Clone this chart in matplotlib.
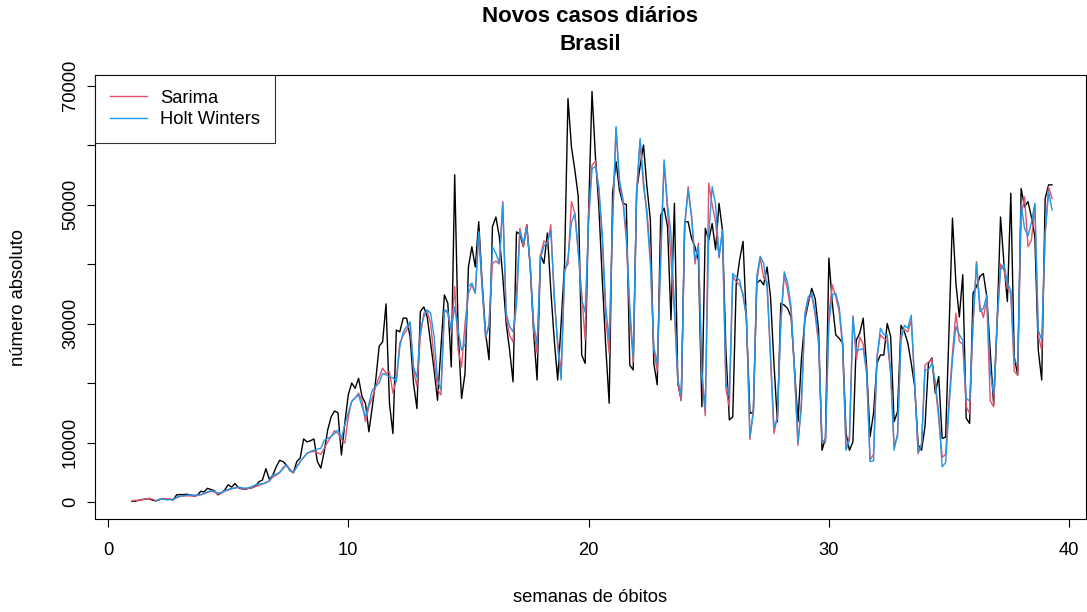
import numpy as np
import matplotlib
matplotlib.use("Agg")
import matplotlib.pyplot as plt

plt.rcParams['font.family'] = ['Liberation Sans', 'DejaVu Sans']

# casos diarios observados (serie comeca na semana 1, frequencia 7)
observado = [
    100, 150, 300, 400, 500, 550, 300, 200, 400, 550,
    500, 450, 350, 1200, 1250, 1250, 1300, 1200, 1000, 1100,
    1800, 1700, 2300, 2100, 1900, 1200, 1500, 2000, 2900, 2500,
    3100, 2400, 2200, 2150, 2300, 2400, 2700, 3400, 3700, 5600,
    3800, 4500, 5900, 7000, 6800, 6200, 5400, 4900, 6800, 7400,
    10600, 10100, 10300, 10600, 6800, 5700, 8500, 12100, 14300, 15300,
    15000, 7900, 13300, 18000, 20000, 19100, 20800, 17700, 16600, 11800,
    16000, 20500, 26200, 26900, 33300, 16600, 11500, 28900, 28600, 30900,
    30900, 27800, 19950, 15700, 32000, 32800, 31100, 26700, 22200, 17100,
    26000, 34800, 33400, 22700, 55000, 28600, 17400, 21600, 39500, 42900,
    39500, 47100, 36800, 28400, 23900, 46300, 47900, 44600, 37900, 30000,
    25500, 20200, 45400, 45000, 42900, 46600, 39500, 28400, 20500, 41500,
    40100, 45200, 35600, 27200, 20500, 30000, 40000, 67800, 59700, 55800,
    51300, 24700, 23300, 48500, 69000, 58000, 49600, 37300, 26100, 16600,
    51900, 57200, 52400, 50200, 50000, 23000, 22200, 52400, 56400, 60000,
    53000, 47400, 23300, 19700, 48200, 49400, 46300, 30600, 50200, 19950,
    17100, 47100, 47100, 44300, 42900, 40700, 16000, 46000, 44000, 46800,
    42400, 50200, 45700, 25500, 13800, 14300, 36500, 40700, 43800, 30000,
    14900, 15100, 36800, 37300, 36500, 39500, 34500, 23300, 13500, 33400,
    33100, 32500, 31100, 22200, 13500, 24000, 30600, 33400, 35900, 34200,
    28900, 8700, 10700, 41000, 33400, 28100, 27500, 26700, 11500, 8700,
    10100, 27200, 28400, 30900, 22700, 11000, 14900, 23300, 24700, 24700,
    30000, 27800, 13500, 15200, 29700, 28600, 26700, 23300, 19400, 9600,
    8700, 12700, 23300, 24200, 18300, 21100, 10700, 10900, 28900, 47700,
    36800, 31100, 38200, 14100, 13200, 35100, 36200, 37900, 38400, 34500,
    25500, 16300, 30000, 47900, 40100, 33700, 51900, 24400, 21300, 52700,
    49600, 50500, 47900, 44600, 25500, 20500, 51000, 53300, 53300,
]

# valores ajustados pelo SARIMA
sarima = [
    170, 300, 250, 400, 500, 620, 450, 220, 450, 600,
    560, 500, 420, 700, 950, 1000, 1050, 1000, 1050, 1100,
    1200, 1400, 1600, 1800, 1700, 1300, 1500, 1800, 2000, 2200,
    2400, 2500, 2200, 2200, 2300, 2400, 2600, 2800, 3000, 3300,
    3500, 4200, 4500, 4900, 5800, 6200, 5500, 4900, 5900, 6800,
    7500, 8200, 8400, 8500, 8300, 8000, 9000, 10100, 11000, 12000,
    11500, 10500, 9900, 14300, 16900, 17500, 18300, 17000, 13500, 16000,
    17500, 19400, 21000, 22500, 21600, 21900, 18300, 20500, 26700, 28000,
    28900, 30000, 22200, 19400, 27800, 31700, 32000, 30000, 24000, 18900,
    18000, 32300, 31700, 28600, 36200, 25500, 22700, 30000, 35100, 36500,
    35100, 45400, 36000, 27500, 30000, 40100, 40500, 40000, 50500, 31100,
    28000, 26900, 35000, 46000, 42900, 46600, 39500, 28900, 25000, 41500,
    43900, 43300, 46600, 34000, 27000, 21600, 39000, 40000, 50500, 48500,
    42000, 35000, 27200, 48500, 56600, 57300, 52000, 44000, 31000, 25000,
    47000, 62800, 53500, 50500, 44000, 31500, 23500, 51500, 60500, 53000,
    49000, 41500, 25500, 22000, 42000, 57000, 49000, 41000, 32000, 20000,
    17000, 46000, 53000, 48000, 40000, 43500, 21000, 14500, 53600, 50000,
    47000, 41000, 45700, 19000, 16000, 38000, 37000, 36500, 35000, 31000,
    10500, 15500, 37000, 41100, 37700, 37000, 24000, 11500, 14500, 30500,
    38200, 35500, 32000, 21500, 9500, 17000, 31000, 34000, 34800, 31500,
    26500, 10000, 10500, 31500, 36500, 34500, 32000, 26000, 9000, 11000,
    31300, 24000, 27700, 26500, 22000, 7100, 8000, 24500, 28100, 27500,
    27000, 21500, 9500, 11000, 28000, 29000, 28600, 30500, 20000, 8100,
    9800, 23000, 23500, 24000, 19500, 14000, 7500, 8000, 17000, 25000,
    31700, 27000, 26500, 16000, 14900, 30000, 40400, 33000, 31000, 34000,
    17000, 16000, 30000, 40000, 39000, 36000, 35000, 22000, 21300, 48000,
    51300, 42900, 44000, 50000, 28000, 25500, 45000, 53000, 51000,
]

# valores ajustados pelo Holt Winters (sem ajuste na primeira semana)
holt = [
    np.nan, np.nan, np.nan, np.nan, np.nan, np.nan, np.nan, 200, 450, 500,
    350, 400, 450, 800, 1000, 1050, 1150, 1200, 1150, 1200,
    1250, 1400, 1700, 1900, 1800, 1500, 1600, 1900, 2100, 2300,
    2300, 2500, 2400, 2300, 2400, 2600, 2900, 3000, 3100, 3200,
    3600, 4500, 4700, 5000, 5600, 6200, 5200, 5000, 5900, 6800,
    7500, 8200, 8500, 8700, 8900, 9000, 10400, 10700, 11000, 11500,
    12100, 10700, 13000, 15000, 16900, 17500, 18000, 16000, 14300, 16500,
    18800, 19500, 20000, 21600, 21400, 21000, 20900, 20200, 26000, 28600,
    29500, 30300, 22700, 20900, 29000, 31100, 32300, 31700, 27800, 20500,
    18800, 32300, 32000, 28900, 32800, 28900, 25500, 26500, 36200, 36800,
    35100, 45400, 36000, 27800, 29400, 42900, 41800, 40100, 50200, 31700,
    29500, 28600, 33000, 45500, 43500, 46000, 40000, 30000, 26500, 41000,
    43000, 43800, 45500, 35000, 26000, 20500, 38500, 41000, 47000, 48500,
    42000, 34000, 31900, 47000, 56000, 56400, 53000, 45000, 32800, 27200,
    47400, 63100, 54100, 51000, 45000, 32800, 24400, 52400, 61100, 54100,
    48000, 40000, 26100, 23300, 40000, 57500, 50000, 45000, 33000, 20500,
    18000, 46800, 52400, 47900, 40700, 42900, 22000, 15500, 45000, 53000,
    50000, 41200, 45700, 20000, 17700, 38400, 37800, 37300, 34500, 31100,
    11000, 15000, 38000, 41300, 40100, 36000, 25000, 12500, 14000, 30000,
    38700, 36800, 32800, 22000, 10000, 16000, 31700, 34500, 35100, 32000,
    27200, 10400, 10000, 30000, 34800, 35100, 32800, 26700, 8700, 10400,
    31100, 25500, 25600, 25800, 21600, 6800, 6900, 23900, 29200, 28100,
    28100, 21900, 8700, 11500, 27200, 29700, 29200, 31400, 20000, 8400,
    9600, 22200, 22200, 23300, 20200, 14900, 5900, 6600, 16000, 23900,
    29500, 28100, 27200, 17400, 17000, 30000, 40100, 32000, 32500, 34800,
    22000, 18000, 30000, 39000, 40000, 36800, 35600, 23600, 23300, 50000,
    46000, 44700, 47000, 50200, 28900, 27200, 45200, 52100, 49100,
]

semanas = 1 + np.arange(len(observado)) / 7

xticks = [0, 10, 20, 30, 40]
yticks = [0, 10000, 20000, 30000, 40000, 50000, 60000, 70000]
ylabels = ['0', '10000', '', '30000', '', '50000', '', '70000']

fs = 13.2

fig = plt.figure(figsize=(10.87, 6.12), dpi=100)
ax = fig.add_axes([95 / 1087, 93 / 612, (1086 - 95) / 1087, (519 - 75) / 612])

ax.plot(semanas, observado, color='black', lw=1.0)
ax.plot(semanas, sarima, color='#DF536B', lw=1.0, label='Sarima')
ax.plot(semanas, holt, color='#2297E6', lw=1.0, label='Holt Winters')

ax.set_xlim(-0.54, 40.7)
ax.set_ylim(-2857, 71765)
ax.set_xticks(xticks)
ax.set_xticklabels([str(t) for t in xticks])
ax.set_yticks(yticks)
ax.set_yticklabels(ylabels, rotation=90, va='center')
ax.tick_params(direction='out', length=5.5, width=0.8, labelsize=fs)
ax.tick_params(axis='x', pad=11)
ax.tick_params(axis='y', pad=6)
for s in ax.spines.values():
    s.set_linewidth(0.8)

leg = ax.legend(loc='upper left', bbox_to_anchor=(0, 1), borderaxespad=0,
                fancybox=False, edgecolor='black', fontsize=fs,
                handlelength=2.05, handletextpad=0.7, borderpad=0.8,
                labelspacing=0.25)
leg.get_frame().set_linewidth(0.8)

fig.text(590 / 1087, 1 - 17 / 612, 'Novos casos diários', ha='center',
         va='center', fontsize=16, fontweight='bold')
fig.text(590 / 1087, 1 - 45 / 612, 'Brasil', ha='center',
         va='center', fontsize=16, fontweight='bold')
fig.text(590 / 1087, 1 - 598 / 612, 'semanas de óbitos', ha='center',
         va='center', fontsize=fs)
fig.text(19 / 1087, 1 - 297 / 612, 'número absoluto', ha='center',
         va='center', rotation=90, fontsize=fs)

fig.savefig('out.png', dpi=100)
